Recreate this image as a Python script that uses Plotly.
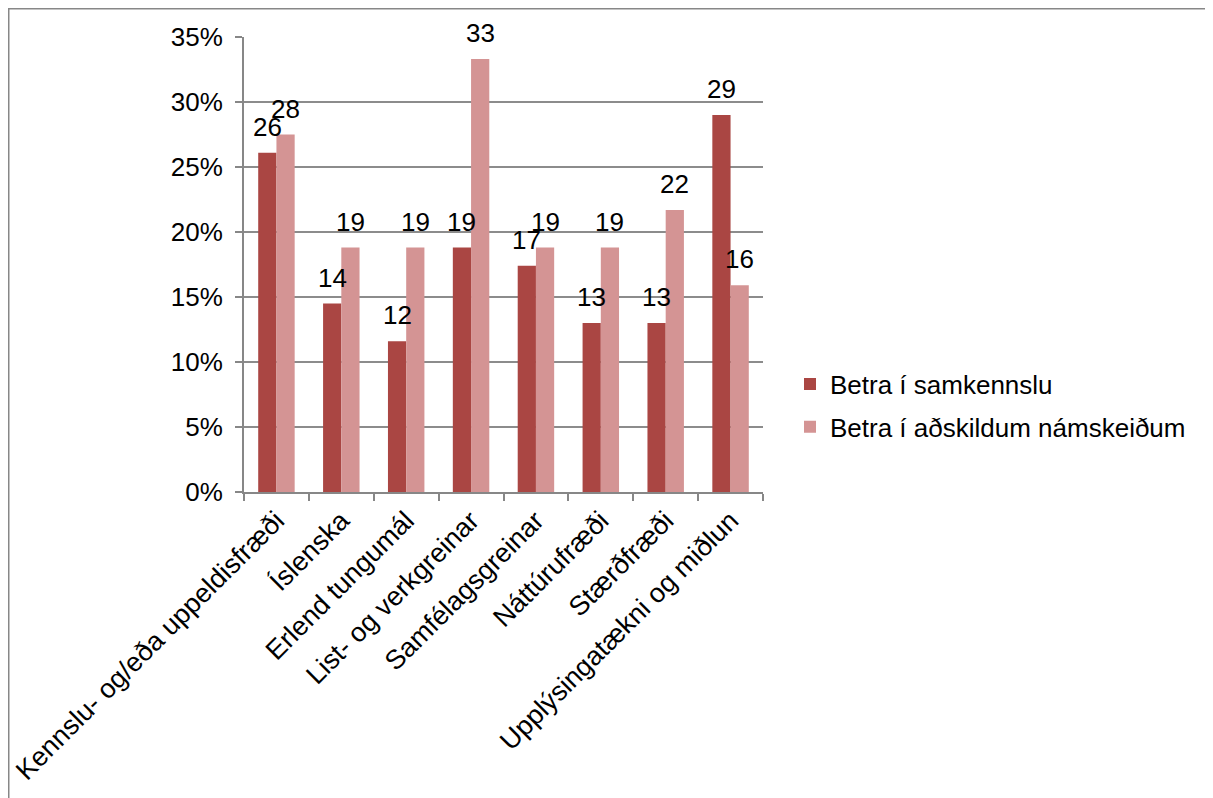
import plotly.graph_objects as go

categories = ["Kennslu- og/eða uppeldisfræði", "Íslenska", "Erlend tungumál",
              "List- og verkgreinar", "Samfélagsgreinar", "Náttúrufræði",
              "Stærðfræði", "Upplýsingatækni og miðlun"]
series_names = ["Betra í samkennslu", "Betra í aðskildum námskeiðum"]
samkennsla = [26.1, 14.5, 11.6, 18.8, 17.4, 13.0, 13.0, 29.0]
adskilin = [27.5, 18.8, 18.8, 33.3, 18.8, 18.8, 21.7, 15.9]
samkennsla_labels = ["26", "14", "12", "19", "17", "13", "13", "29"]
adskilin_labels = ["28", "19", "19", "33", "19", "19", "22", "16"]
y_ticks = [0, 5, 10, 15, 20, 25, 30, 35]
y_ticklabels = ["0%", "5%", "10%", "15%", "20%", "25%", "30%", "35%"]

colors = ["#AA4643", "#D49494"]
FONT = "Liberation Sans, Arial, sans-serif"
FS = 26
OFF = 8  # page body margin
W, H = 1213 - OFF, 798 - OFF
# target plot area (screen px)
X0, X1, Y0, Y1 = 244, 763, 37, 492
ML, MR, MT, MB = X0 - OFF, W - (X1 - OFF), Y0 - OFF, H - (Y1 - OFF)
pw, ph = W - ML - MR, H - MT - MB


def px2paper_x(px):
    return (px - OFF - ML) / pw


def px2paper_y(py):
    return (H - MB - (py - OFF)) / ph


fig = go.Figure()
for name, vals, col, grp in [(series_names[0], samkennsla, colors[0], "a"),
                             (series_names[1], adskilin, colors[1], "b")]:
    fig.add_trace(go.Bar(x=categories, y=vals, name=name, marker_color=col,
                         marker_line_width=0, legendgroup=grp))

# data labels
bar_px = pw / len(categories) * (1 - 0.438) / 2
for vals, labs, sh in [(samkennsla, samkennsla_labels, -bar_px / 2),
                       (adskilin, adskilin_labels, bar_px / 2)]:
    for c, v, t in zip(categories, vals, labs):
        fig.add_annotation(x=c, y=v, text=t, showarrow=False, xshift=sh,
                           yshift=9, yanchor="bottom", xanchor="center",
                           font=dict(family=FONT, size=FS, color="black"))

# outer frame (left and top edges)
fig.add_shape(type="path", xref="paper", yref="paper",
              path=(f"M {px2paper_x(OFF + 0.5)} {px2paper_y(830)} "
                    f"L {px2paper_x(OFF + 0.5)} {px2paper_y(OFF + 0.5)} "
                    f"L {px2paper_x(1240)} {px2paper_y(OFF + 0.5)}"),
              line=dict(color="#878787", width=2))

fig.update_layout(
    width=W, height=H,
    margin=dict(l=ML, r=MR, t=MT, b=MB, pad=0, autoexpand=False),
    paper_bgcolor="white", plot_bgcolor="white",
    barmode="group", bargap=0.438, bargroupgap=0,
    font=dict(family=FONT, size=FS, color="black"),
    showlegend=True,
    legend=dict(x=px2paper_x(790), y=px2paper_y(405.5), xanchor="left", yanchor="middle",
                font=dict(family=FONT, size=FS, color="black"),
                traceorder="grouped", tracegroupgap=6, itemwidth=30,
                bgcolor="rgba(0,0,0,0)"),
    xaxis=dict(type="category", automargin=False, showgrid=False, showline=True,
               linecolor="#878787", linewidth=2, ticks="outside",
               tickson="boundaries", ticklen=7,
               tickcolor="#878787", tickwidth=2, tickangle=-45,
               tickfont=dict(family=FONT, size=27, color="black")),
    yaxis=dict(range=[0, 35], tickvals=y_ticks, ticktext=y_ticklabels,
               automargin=False,
               showgrid=True, gridcolor="#8C8C8C", gridwidth=1.5,
               showline=True, linecolor="#878787", linewidth=2,
               ticks="outside", ticklen=7, tickcolor="#878787", tickwidth=2,
               ticklabelstandoff=7, zeroline=False,
               tickfont=dict(family=FONT, size=FS, color="black")),
)

fig.write_html("out.html")
